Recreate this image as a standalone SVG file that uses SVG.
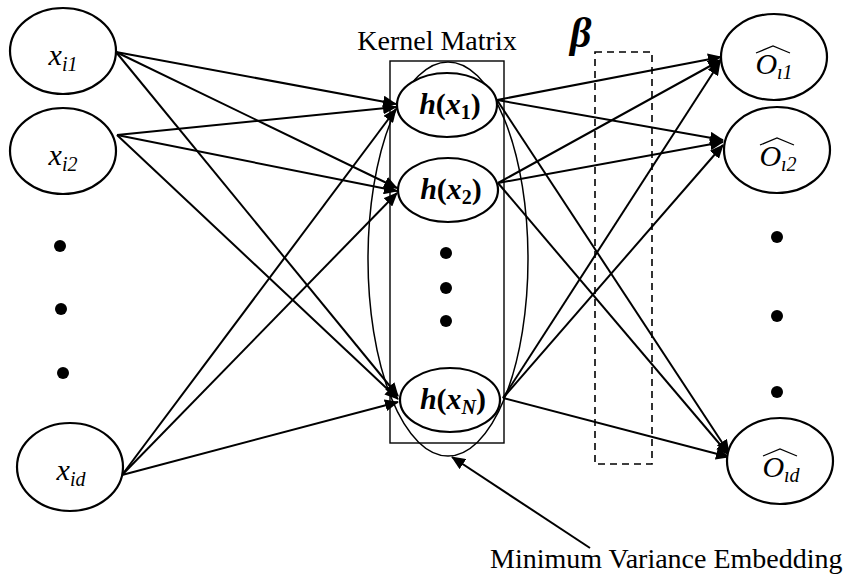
<svg xmlns="http://www.w3.org/2000/svg" width="852" height="574" viewBox="0 0 852 574">
<style>
.node{fill:#fff;stroke:#000;stroke-width:2.2}
.conn{stroke:#000;stroke-width:2;fill:none}
.math{font-family:"Liberation Serif","Times New Roman",serif;font-style:italic;font-size:30px;fill:#000}
.sub{font-size:20px}
.hx{font-family:"Liberation Serif","Times New Roman",serif;font-weight:bold;font-size:30px;fill:#000}
.lbl{font-family:"Liberation Serif","Times New Roman",serif;font-size:28px;fill:#000}
.dot{fill:#000}
.hat{fill:none;stroke:#000;stroke-width:1.3}
</style>
<defs>
<marker id="arr" markerUnits="userSpaceOnUse" markerWidth="14" markerHeight="12" refX="13" refY="6" orient="auto">
<path d="M0,0 L14,6 L0,12 z" fill="#000"/>
</marker>
</defs>
<rect x="390" y="61" width="114" height="382" fill="none" stroke="#000" stroke-width="1.4"/>
<text class="lbl" x="437" y="50" text-anchor="middle">Kernel Matrix</text>
<rect x="595" y="52" width="57" height="412" fill="none" stroke="#000" stroke-width="1.6" stroke-dasharray="7,5"/>
<text x="570" y="47" font-family="Liberation Serif, serif" font-weight="bold" font-style="italic" font-size="42px">β</text>
<g id="connectors">
<line class="conn" x1="116" y1="52" x2="396" y2="104" marker-end="url(#arr)"/>
<line class="conn" x1="116" y1="52" x2="397" y2="188" marker-end="url(#arr)"/>
<line class="conn" x1="116" y1="52" x2="398" y2="396" marker-end="url(#arr)"/>
<line class="conn" x1="117" y1="135" x2="396" y2="107" marker-end="url(#arr)"/>
<line class="conn" x1="117" y1="135" x2="397" y2="191" marker-end="url(#arr)"/>
<line class="conn" x1="117" y1="135" x2="398" y2="399" marker-end="url(#arr)"/>
<line class="conn" x1="122" y1="475" x2="396" y2="109" marker-end="url(#arr)"/>
<line class="conn" x1="122" y1="475" x2="397" y2="193" marker-end="url(#arr)"/>
<line class="conn" x1="122" y1="475" x2="398" y2="402" marker-end="url(#arr)"/>
<line class="conn" x1="497" y1="100" x2="721" y2="57" marker-end="url(#arr)"/>
<line class="conn" x1="497" y1="100" x2="723" y2="140" marker-end="url(#arr)"/>
<line class="conn" x1="497" y1="100" x2="729" y2="453" marker-end="url(#arr)"/>
<line class="conn" x1="498" y1="183" x2="721" y2="60" marker-end="url(#arr)"/>
<line class="conn" x1="498" y1="183" x2="723" y2="142" marker-end="url(#arr)"/>
<line class="conn" x1="498" y1="183" x2="729" y2="455" marker-end="url(#arr)"/>
<line class="conn" x1="503" y1="398" x2="720" y2="62" marker-end="url(#arr)"/>
<line class="conn" x1="503" y1="398" x2="723" y2="145" marker-end="url(#arr)"/>
<line class="conn" x1="503" y1="398" x2="729" y2="457" marker-end="url(#arr)"/>
<line class="conn" x1="590" y1="548" x2="452" y2="457" marker-end="url(#arr)"/>
</g>
<ellipse cx="448" cy="259" rx="80" ry="197" fill="none" stroke="#000" stroke-width="1.5"/>
<g id="x_i1">
<ellipse class="node" cx="63" cy="51" rx="53" ry="43"/>
<text class="math" x="63" y="65" text-anchor="middle">x<tspan class="sub" dy="6">i1</tspan></text>
</g>
<g id="x_i2">
<ellipse class="node" cx="63" cy="151" rx="53" ry="43"/>
<text class="math" x="63" y="165" text-anchor="middle">x<tspan class="sub" dy="6">i2</tspan></text>
</g>
<g id="x_id">
<ellipse class="node" cx="70" cy="467" rx="53" ry="44"/>
<text class="math" x="71" y="480" text-anchor="middle">x<tspan class="sub" dy="6">id</tspan></text>
</g>
<g id="left-dots">
<circle class="dot" cx="60" cy="246" r="6"/>
<circle class="dot" cx="61" cy="309" r="6"/>
<circle class="dot" cx="63" cy="373" r="6"/>
</g>
<g id="h1">
<ellipse class="node" cx="447" cy="105" rx="50" ry="32"/>
<text class="hx" x="450" y="114" text-anchor="middle"><tspan font-style="italic">h</tspan>(<tspan font-style="italic">x</tspan><tspan font-size="20px" dy="5">1</tspan><tspan dy="-5">)</tspan></text>
</g>
<g id="h2">
<ellipse class="node" cx="448" cy="190" rx="50" ry="32"/>
<text class="hx" x="451" y="199" text-anchor="middle"><tspan font-style="italic">h</tspan>(<tspan font-style="italic">x</tspan><tspan font-size="20px" dy="5">2</tspan><tspan dy="-5">)</tspan></text>
</g>
<g id="hN">
<ellipse class="node" cx="450" cy="400" rx="50" ry="32"/>
<text class="hx" x="453" y="409" text-anchor="middle"><tspan font-style="italic">h</tspan>(<tspan font-style="italic">x</tspan><tspan font-size="20px" font-style="italic" dy="5">N</tspan><tspan dy="-5">)</tspan></text>
</g>
<g id="mid-dots">
<circle class="dot" cx="446" cy="253" r="6"/>
<circle class="dot" cx="446" cy="288" r="6"/>
<circle class="dot" cx="446" cy="321" r="6"/>
</g>
<g id="O_i1">
<ellipse class="node" cx="774" cy="57" rx="53" ry="43"/>
<text class="math" x="774" y="74" text-anchor="middle">O<tspan class="sub" dy="5">ı1</tspan></text>
<path class="hat" d="M756,53 L773,46 L790,53"/>
</g>
<g id="O_i2">
<ellipse class="node" cx="777" cy="150" rx="53" ry="43"/>
<text class="math" x="778" y="166" text-anchor="middle">O<tspan class="sub" dy="5">ı2</tspan></text>
<path class="hat" d="M760,145 L777,138 L794,145"/>
</g>
<g id="O_id">
<ellipse class="node" cx="780" cy="461" rx="53" ry="43"/>
<text class="math" x="781" y="477" text-anchor="middle">O<tspan class="sub" dy="5">ıd</tspan></text>
<path class="hat" d="M763,456 L780,449 L797,456"/>
</g>
<g id="right-dots">
<circle class="dot" cx="777" cy="237" r="6"/>
<circle class="dot" cx="777" cy="316" r="6"/>
<circle class="dot" cx="777" cy="392" r="6"/>
</g>
<text class="lbl" x="490" y="568">Minimum Variance Embedding</text>
</svg>
